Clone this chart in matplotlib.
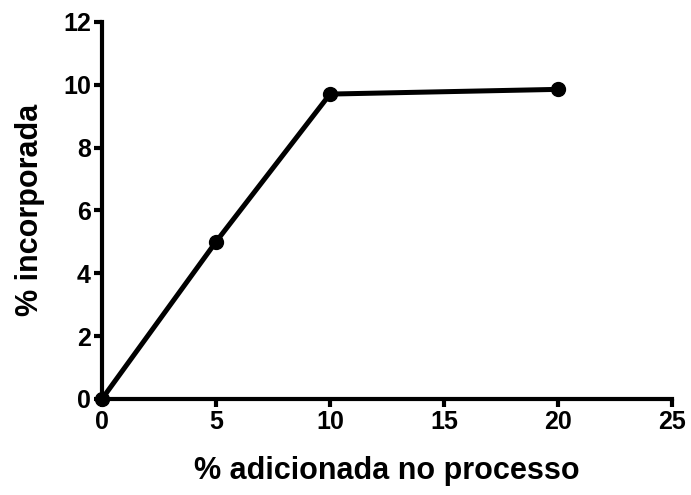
import matplotlib.pyplot as plt

# % adicionada vs % incorporada
adicionada = [0, 5, 10, 20]
incorporada = [0, 5.0, 9.7, 9.85]

x_ticks = [0, 5, 10, 15, 20, 25]
y_ticks = [0, 2, 4, 6, 8, 10, 12]

plt.rcParams['font.family'] = ['Liberation Sans', 'DejaVu Sans']
plt.rcParams['font.weight'] = 'bold'

fig = plt.figure(figsize=(6.91, 4.95), dpi=100)
ax = fig.add_axes([0.1476, 0.194, 0.825, 0.762])

ax.plot(adicionada, incorporada, color='black', linewidth=3.6,
        marker='o', markersize=10, clip_on=False, zorder=3)

ax.set_xlim(0, 25)
ax.set_ylim(0, 12)
ax.set_xticks(x_ticks)
ax.set_yticks(y_ticks)

for side in ['top', 'right']:
    ax.spines[side].set_visible(False)
for side in ['left', 'bottom']:
    ax.spines[side].set_linewidth(3)
ax.tick_params(width=3, length=6, labelsize=18, pad=2)

ax.set_xlabel('% adicionada no processo', fontsize=22, fontweight='bold', labelpad=16)
ax.set_ylabel('% incorporada', fontsize=22, fontweight='bold', labelpad=13)

fig.savefig('out.png', dpi=100)
